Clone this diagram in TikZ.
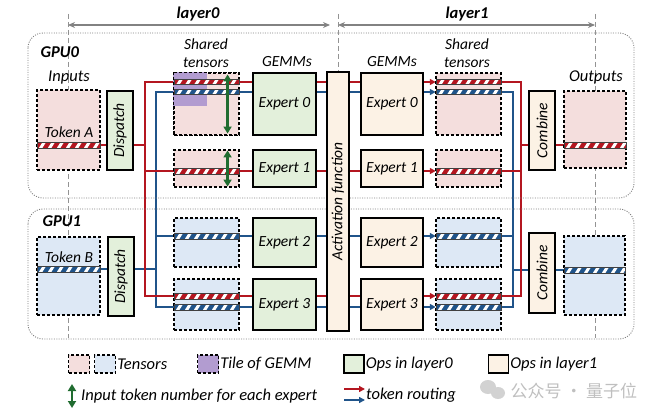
\documentclass[tikz,border=0pt]{standalone}
\usepackage{fontspec}
\setmainfont{Carlito}
\newfontfamily\cjkwm{Noto Sans CJK SC}
\usetikzlibrary{arrows.meta, backgrounds}
\definecolor{tenpink}{RGB}{244, 222, 221}
\definecolor{tenblue}{RGB}{221, 232, 245}
\definecolor{opsgreen}{RGB}{227, 240, 219}
\definecolor{opscream}{RGB}{252, 242, 229}
\definecolor{tilepurple}{RGB}{178, 156, 208}
\definecolor{tokred}{RGB}{180, 22, 32}
\definecolor{tokblue}{RGB}{32, 84, 138}
\definecolor{cntgreen}{RGB}{32, 108, 48}
\definecolor{hdrgray}{RGB}{130, 130, 130}

\begin{document}
\begin{tikzpicture}[
    x=1pt, y=-1pt,
    every node/.style={font=\fontsize{15.5}{18}\selectfont\itshape},
    tensor/.style={draw=black, dashed, dash pattern=on 3pt off 2pt, line width=1.1pt, inner sep=0pt},
    pinkten/.style={tensor, fill=tenpink},
    blueten/.style={tensor, fill=tenblue},
    opzero/.style={draw=black, line width=1.2pt, fill=opsgreen, inner sep=0pt},
    opone/.style={draw=black, line width=1.2pt, fill=opscream, inner sep=0pt},
    tokbar/.style={
        minimum height=5.5pt, inner sep=0pt, draw=black!75, line width=0.5pt,
        path picture={
            \foreach \k in {-1,...,8}
                \fill[white] ([xshift=\k*9pt+2pt]path picture bounding box.south west)
                    -- ++(3.5pt,0pt) -- ++(3.5pt,5.5pt) -- ++(-3.5pt,0pt) -- cycle;
        }
    },
    rbar/.style={tokbar, fill=tokred},
    bbar/.style={tokbar, fill=tokblue},
    rroute/.style={draw=tokred, line width=2pt},
    broute/.style={draw=tokblue, line width=2pt},
    >={Triangle[length=6pt, width=6pt]},
    cnt/.style={draw=cntgreen, line width=2.4pt, {Triangle[length=7pt, width=8pt]}-{Triangle[length=7pt, width=8pt]}},
    gpubox/.style={draw=gray, line width=0.9pt, dash pattern=on 1pt off 1.4pt, rounded corners=15pt},
    guide/.style={draw=gray!85, line width=0.9pt, dash pattern=on 5pt off 3pt},
    hdr/.style={draw=hdrgray, line width=1.2pt, {Stealth[length=7pt, width=6pt]}-{Stealth[length=7pt, width=6pt]}}
]
\useasboundingbox (0,0) rectangle (660,417);

% GPU containers
\draw[gpubox] (28,33) rectangle (634,198);
\draw[gpubox] (28,209) rectangle (634,339);
\node[anchor=west, font=\fontsize{16.5}{19}\selectfont\bfseries\itshape] (gpu0) at (37,52) {GPU0};
\node[anchor=west, font=\fontsize{16.5}{19}\selectfont\bfseries\itshape] (gpu1) at (39,221) {GPU1};

% Layer header
\coordinate (hl) at (68,25);
\coordinate (hm) at (338,25);
\coordinate (hr) at (595,25);
\node[font=\fontsize{16.5}{19}\selectfont\bfseries\itshape] (lay0) at (198,14) {layer0};
\node[font=\fontsize{16.5}{19}\selectfont\bfseries\itshape] (lay1) at (467,14) {layer1};
\draw[hdr] (hl) -- ([xshift=-8pt]hm);
\draw[hdr] (hm) -- (hr);

% Inputs
\node[font=\fontsize{16.5}{19}\selectfont\itshape] (lin) at (69,78) {Inputs};
\node[pinkten, minimum width=63pt, minimum height=80pt] (inA) at (68.5,130) {};
\node[rbar, minimum width=63pt] (tA) at (68.5,145) {};
\node (ltA) at (69,132) {Token A};
\node[blueten, minimum width=63pt, minimum height=78pt] (inB) at (68.5,276) {};
\node[bbar, minimum width=63pt] (tB) at (68.5,269) {};
\node (ltB) at (69,257) {Token B};

% Dispatch
\node[opzero, rotate=90, minimum width=79pt, minimum height=26pt] (disA) at (120,130.5) {Dispatch};
\node[opzero, rotate=90, minimum width=79pt, minimum height=26pt] (disB) at (121,276.5) {Dispatch};

% Shared tensors, layer0
\node[align=center] (lsh0) at (206,53) {Shared\\tensors};
\node[pinkten, minimum width=65pt, minimum height=62pt] (s00) at (206.5,104) {};
\fill[tilepurple] (s00.north west) rectangle ++(34,34);
\draw[tensor] (s00.north west) rectangle (s00.south east);
\node[rbar, minimum width=65pt] (r00) at (206.5,82) {};
\node[bbar, minimum width=65pt] (b00) at (206.5,92) {};
\node[pinkten, minimum width=65pt, minimum height=37pt] (s01) at (206.5,168.5) {};
\node[rbar, minimum width=65pt] (r01) at (206.5,171) {};
\node[blueten, minimum width=65pt, minimum height=49pt] (s02) at (206.5,242.5) {};
\node[bbar, minimum width=65pt] (b02) at (206.5,236) {};
\node[blueten, minimum width=65pt, minimum height=51pt] (s03) at (206.5,304.5) {};
\node[rbar, minimum width=65pt] (r03) at (206.5,296) {};
\node[bbar, minimum width=65pt] (b03) at (206.5,307) {};
\draw[cnt] ([xshift=-12pt, yshift=-2pt]s00.north east) -- ([xshift=-12pt, yshift=2pt]s00.south east);
\draw[cnt] ([xshift=-12pt, yshift=-1pt]s01.north east) -- ([xshift=-12pt, yshift=1pt]s01.south east);

% GEMMs, layer0
\node (lgm0) at (287,62) {GEMMs};
\node[opzero, minimum width=63pt, minimum height=62pt] (e00) at (284.5,104) {Expert 0};
\node[opzero, minimum width=63pt, minimum height=37pt] (e01) at (284.5,168.5) {Expert 1};
\node[opzero, minimum width=63pt, minimum height=49pt] (e02) at (284.5,242.5) {Expert 2};
\node[opzero, minimum width=63pt, minimum height=51pt] (e03) at (284.5,304.5) {Expert 3};

% Activation
\node[opone, rotate=90, minimum width=259pt, minimum height=22pt] (act) at (338,201.5) {Activation function};

% GEMMs, layer1
\node (lgm1) at (392,62) {GEMMs};
\node[opone, minimum width=62pt, minimum height=62pt] (e10) at (392,104) {Expert 0};
\node[opone, minimum width=62pt, minimum height=37pt] (e11) at (392,168.5) {Expert 1};
\node[opone, minimum width=62pt, minimum height=49pt] (e12) at (392,242.5) {Expert 2};
\node[opone, minimum width=62pt, minimum height=51pt] (e13) at (392,304.5) {Expert 3};

% Shared tensors, layer1
\node[align=center] (lsh1) at (467,53) {Shared\\tensors};
\node[pinkten, minimum width=65pt, minimum height=62pt] (s10) at (468.5,104) {};
\node[rbar, minimum width=65pt] (r10) at (468.5,82) {};
\node[bbar, minimum width=65pt] (b10) at (468.5,92) {};
\node[pinkten, minimum width=65pt, minimum height=37pt] (s11) at (468.5,168.5) {};
\node[rbar, minimum width=65pt] (r11) at (468.5,171) {};
\node[blueten, minimum width=65pt, minimum height=49pt] (s12) at (468.5,242.5) {};
\node[bbar, minimum width=65pt] (b12) at (468.5,236) {};
\node[blueten, minimum width=65pt, minimum height=51pt] (s13) at (468.5,304.5) {};
\node[rbar, minimum width=65pt] (r13) at (468.5,296) {};
\node[bbar, minimum width=65pt] (b13) at (468.5,307) {};

% Combine
\node[opone, rotate=90, minimum width=79pt, minimum height=26pt] (comA) at (542,130.5) {Combine};
\node[opone, rotate=90, minimum width=80pt, minimum height=26pt] (comB) at (542,273) {Combine};

% Outputs
\node[font=\fontsize{16.5}{19}\selectfont\itshape] (lout) at (596,77) {Outputs};
\node[pinkten, minimum width=62pt, minimum height=77pt] (outA) at (595,129.5) {};
\node[rbar, minimum width=62pt] (oA) at (595,145) {};
\node[blueten, minimum width=61pt, minimum height=79pt] (outB) at (594.5,275.5) {};
\node[bbar, minimum width=61pt] (oB) at (594.5,270) {};

% Trunks
\coordinate (rt0) at (145,0);
\coordinate (bt0) at (156,0);
\coordinate (bt1) at (513,0);
\coordinate (rt1) at (521,0);

\begin{scope}[on background layer]
% Guides
\draw[guide] (68,14) -- (68,338);
\draw[guide] (338,14) -- (338,72);
\draw[guide] (595,14) -- (595,338);

% Token routing
\draw[broute] (tB.east) -- (tB.east -| bt0);
\draw[broute, <->] (b10.west) -| (bt0 |- b03) -- (b13.west);
\draw[broute, ->] (bt0 |- b02) -- (b12.west);
\draw[rroute] (tA.east) -- (tA.east -| rt0);
\draw[rroute, <->] (r10.west) -| (rt0 |- r03) -- (r13.west);
\draw[rroute, ->] (rt0 |- r01) -- (r11.west);

\draw[broute] (b10.east) -| (bt1 |- b13) -- (b13.east);
\draw[broute] (b12.east) -- (b12.east -| bt1);
\draw[broute] (bt1 |- oB) -- (oB.west);
\draw[rroute] (r10.east) -| (rt1 |- r13) -- (r13.east);
\draw[rroute] (r11.east) -- (r11.east -| rt1);
\draw[rroute] (rt1 |- oA) -- (oA.west);
\end{scope}

% Legend
\node[pinkten, minimum width=21pt, minimum height=18pt] (lgp) at (79,364) {};
\node[blueten, minimum width=21pt, minimum height=18pt] (lgb) at (105,364) {};
\node[anchor=west, inner sep=1pt, font=\fontsize{16.5}{19}\selectfont\itshape] (lgten) at (lgb.east) {Tensors};
\node[tensor, fill=tilepurple, minimum width=21pt, minimum height=18pt] (lgt) at (208,364) {};
\node[anchor=west, inner sep=1pt, font=\fontsize{16.5}{19}\selectfont\itshape] (lgtile) at (lgt.east) {Tile of GEMM};
\node[opzero, minimum width=20pt, minimum height=18pt] (lgz) at (354,364) {};
\node[anchor=west, inner sep=1pt, font=\fontsize{16.5}{19}\selectfont\itshape] (lgzero) at (lgz.east) {Ops in layer0};
\node[opone, minimum width=20pt, minimum height=18pt] (lgo) at (498.5,364) {};
\node[anchor=west, inner sep=1pt, font=\fontsize{16.5}{19}\selectfont\itshape] (lgone) at (lgo.east) {Ops in layer1};
\node[anchor=west, inner sep=1pt, font=\fontsize{16.5}{19}\selectfont\itshape] (lgcnt) at (80,396) {Input token number for each expert};
\draw[cnt] ([xshift=-8pt, yshift=12pt]lgcnt.west) -- ([xshift=-8pt, yshift=-12pt]lgcnt.west);
\node[anchor=west, inner sep=1pt, font=\fontsize{16.5}{19}\selectfont\itshape] (lgroute) at (365,395) {token routing};
\draw[rroute, ->] ([xshift=-21pt, yshift=6pt]lgroute.west) -- ([yshift=6pt]lgroute.west);
\draw[broute, ->] ([xshift=-21pt, yshift=-5pt]lgroute.west) -- ([yshift=-5pt]lgroute.west);

% Watermark
\fill[gray!35] (488,387) ellipse [x radius=8pt, y radius=7pt];
\fill[gray!35] (498,393) ellipse [x radius=7pt, y radius=6pt];
\node[anchor=west, font=\cjkwm\fontsize{17}{20}\selectfont, text=gray!50] (wm) at (507,391) {公众号 · 量子位};

\end{tikzpicture}
\end{document}
